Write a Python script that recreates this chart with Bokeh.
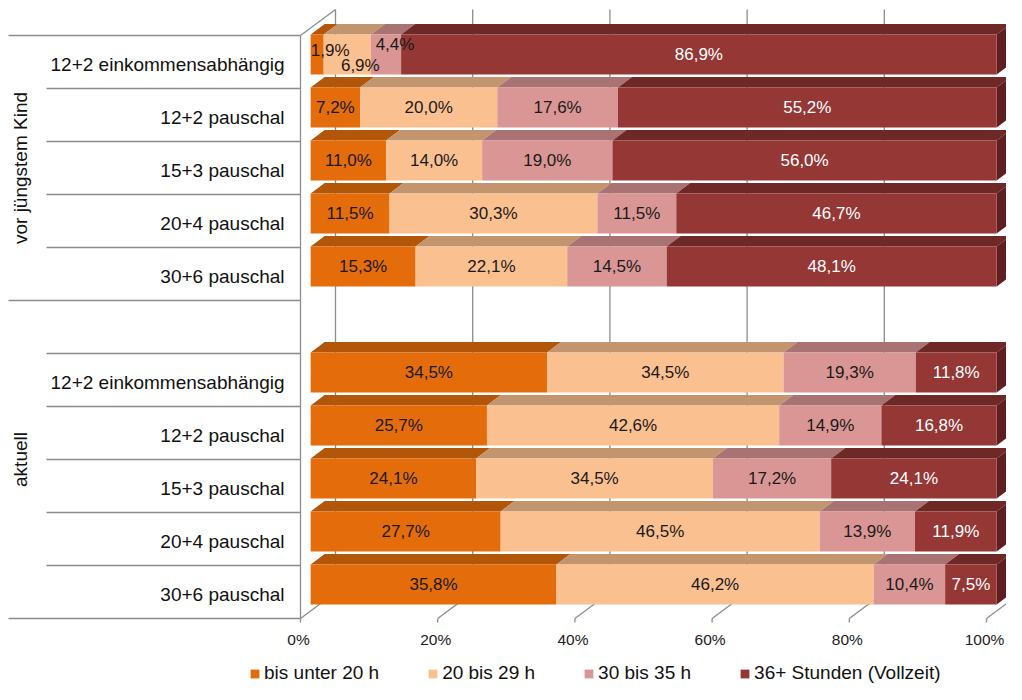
import math
from bokeh.plotting import figure
from bokeh.models import Range1d, Legend, LegendItem
from bokeh.core.properties import value
from bokeh.embed import file_html
from bokeh.resources import INLINE

# ---------------- data ----------------
groups = ["vor jüngstem Kind", "aktuell"]
categories = ["12+2 einkommensabhängig", "12+2 pauschal", "15+3 pauschal",
              "20+4 pauschal", "30+6 pauschal"]
series = ["bis unter 20 h", "20 bis 29 h", "30 bis 35 h", "36+ Stunden (Vollzeit)"]

vor_u20 = [1.9, 7.2, 11.0, 11.5, 15.3]
vor_20_29 = [6.9, 20.0, 14.0, 30.3, 22.1]
vor_30_35 = [4.4, 17.6, 19.0, 11.5, 14.5]
vor_36 = [86.9, 55.2, 56.0, 46.7, 48.1]

akt_u20 = [34.5, 25.7, 24.1, 27.7, 35.8]
akt_20_29 = [34.5, 42.6, 34.5, 46.5, 46.2]
akt_30_35 = [19.3, 14.9, 17.2, 13.9, 10.4]
akt_36 = [11.8, 16.8, 24.1, 11.9, 7.5]

ticks = [0, 20, 40, 60, 80, 100]
tick_labels = ["0%", "20%", "40%", "60%", "80%", "100%"]

front_colors = ["#E46C0A", "#FAC090", "#D99694", "#953735"]
top_colors = ["#B2560A", "#C2956F", "#A97373", "#6E2826"]
side_color = "#5E1F1E"
label_colors = ["#1A1A1A", "#1A1A1A", "#1A1A1A", "#FFFFFF"]
grid_color = "#8C8C8C"
FONT = "Liberation Sans"

# ---------------- layout (pixels) ----------------
W, H = 1006, 684
PXPCT = 6.86          # pixels per percent
SLOT = 53.0           # pixels per category slot
X0 = 300              # canvas px of 0% on floor front edge
Y0 = 618              # canvas px of floor front edge
N_SLOTS = 11

def hx(px):
    return px / PXPCT

def hy(px):
    return px / SLOT

DX, DY = hx(35), hy(26)        # full depth of the 3-D box
F0, F1 = 0.29, 0.69            # bar depth (front / back fraction)
BAR_H = hy(40)

p = figure(width=W, height=H,
           x_range=Range1d(-X0 / PXPCT, (W - X0) / PXPCT),
           y_range=Range1d(-(H - Y0) / SLOT, Y0 / SLOT),
           x_axis_type=None, y_axis_type=None,
           output_backend="svg", toolbar_location=None,
           min_border=0, min_border_left=0, min_border_right=0,
           min_border_top=0, min_border_bottom=0)
p.outline_line_color = None
p.background_fill_color = "white"
p.border_fill_color = "white"

# ---------------- walls and gridlines ----------------
gx0, gy0, gx1, gy1 = [], [], [], []
for t in ticks:
    # back wall
    gx0.append(t + DX); gy0.append(DY); gx1.append(t + DX); gy1.append(N_SLOTS + DY)
    # floor
    gx0.append(t); gy0.append(0); gx1.append(t + DX); gy1.append(DY)
    # small tick mark
    gx0.append(t); gy0.append(0); gx1.append(t); gy1.append(-hy(4))
# left wall front edge and top edge
gx0 += [0, 0]; gy0 += [0, N_SLOTS]; gx1 += [0, DX]; gy1 += [N_SLOTS, N_SLOTS + DY]
p.segment(gx0, gy0, gx1, gy1, line_color=grid_color, line_width=1.3)

# category separators
rows = []   # (slot, group index, category index)
slot = 0
for gi in range(len(groups)):
    if gi > 0:
        slot += 1   # empty slot at the top of the second group
    for ci in range(len(categories)):
        rows.append((slot, gi, ci))
        slot += 1
group_bounds = {N_SLOTS, N_SLOTS - len(categories), 0}
sx0, sy, sx1 = [], [], []
for k in range(N_SLOTS + 1):
    start = hx(8 - X0) if k in group_bounds else hx(46 - X0)
    sx0.append(start); sy.append(k); sx1.append(0)
p.segment(sx0, sy, sx1, sy, line_color=grid_color, line_width=1.3)

# ---------------- bars ----------------
all_vals = [
    [vor_u20, vor_20_29, vor_30_35, vor_36],
    [akt_u20, akt_20_29, akt_30_35, akt_36],
]

label_nudge = {(0, 0, 0): (13, 4), (0, 0, 1): (13, -11), (0, 0, 2): (9, 10)}

front = {i: dict(l=[], r=[], b=[], t=[]) for i in range(4)}
top_xs, top_ys, top_c = [], [], []
side_xs, side_ys = [], []
lab_x, lab_y, lab_t, lab_c = [], [], [], []
cat_x, cat_y, cat_t = [], [], []

for (s, gi, ci) in rows:
    vals = [all_vals[gi][k][ci] for k in range(4)]
    total = sum(vals)
    yc = N_SLOTS - s - 0.5
    cat_x.append(hx(-16)); cat_y.append(yc - hy(2)); cat_t.append(categories[ci])
    b = yc - BAR_H / 2 + F0 * DY
    t = b + BAR_H
    cum = 0.0
    for k, v in enumerate(vals):
        w = v / total * 100.0
        l = cum + F0 * DX
        r = cum + w + F0 * DX
        front[k]["l"].append(l); front[k]["r"].append(r)
        front[k]["b"].append(b); front[k]["t"].append(t)
        ddx, ddy = (F1 - F0) * DX, (F1 - F0) * DY
        top_xs.append([l, r, r + ddx, l + ddx])
        top_ys.append([t, t, t + ddy, t + ddy])
        top_c.append(top_colors[k])
        if k == 3:
            side_xs.append([r, r + ddx, r + ddx, r])
            side_ys.append([b, b + ddy, t + ddy, t])
        nx, ny = label_nudge.get((gi, ci, k), (0, 0))
        lab_x.append((l + r) / 2 + hx(nx))
        lab_y.append((b + t) / 2 + hy(ny))
        lab_t.append(("%.1f" % v).replace(".", ",") + "%")
        lab_c.append(label_colors[k])
        cum += w

p.patches(top_xs, top_ys, fill_color=top_c, line_color=None)
p.patches(side_xs, side_ys, fill_color=side_color, line_color=None)
front_renderers = []
for k in range(4):
    rr = p.quad(left=front[k]["l"], right=front[k]["r"],
                bottom=front[k]["b"], top=front[k]["t"],
                fill_color=front_colors[k], line_color=None)
    front_renderers.append(rr)

# data labels
p.text(x=lab_x, y=lab_y, text=lab_t, text_color=lab_c,
       text_font=value(FONT), text_font_size="17px",
       text_align="center", text_baseline="middle")

# category labels
p.text(x=cat_x, y=cat_y, text=cat_t, text_color="#111111",
       text_font=value(FONT), text_font_size="19px",
       text_align="right", text_baseline="middle")

# group labels (rotated)
g_y = [N_SLOTS - len(categories) / 2, (N_SLOTS - len(categories)) / 2]
p.text(x=[hx(20 - X0)] * 2, y=g_y, text=groups, angle=math.pi / 2,
       text_color="#111111", text_font=value(FONT), text_font_size="19px",
       text_align="center", text_baseline="middle")

# value tick labels
p.text(x=[tk - hx(2) for tk in ticks], y=[-hy(21)] * len(ticks), text=tick_labels,
       text_color="#222222", text_font=value(FONT), text_font_size="15.5px",
       text_align="center", text_baseline="middle")

# legend
legend = Legend(items=[LegendItem(label=series[k], renderers=[front_renderers[k]])
                       for k in range(4)],
                orientation="horizontal", location=(249, 0),
                glyph_width=11, glyph_height=11, label_standoff=4, spacing=48,
                padding=0, margin=0, border_line_color=None,
                background_fill_alpha=0,
                label_text_font=FONT, label_text_font_size="19px",
                label_text_color="#111111")
p.add_layout(legend)

open("out.html", "w").write(file_html(p, INLINE))
